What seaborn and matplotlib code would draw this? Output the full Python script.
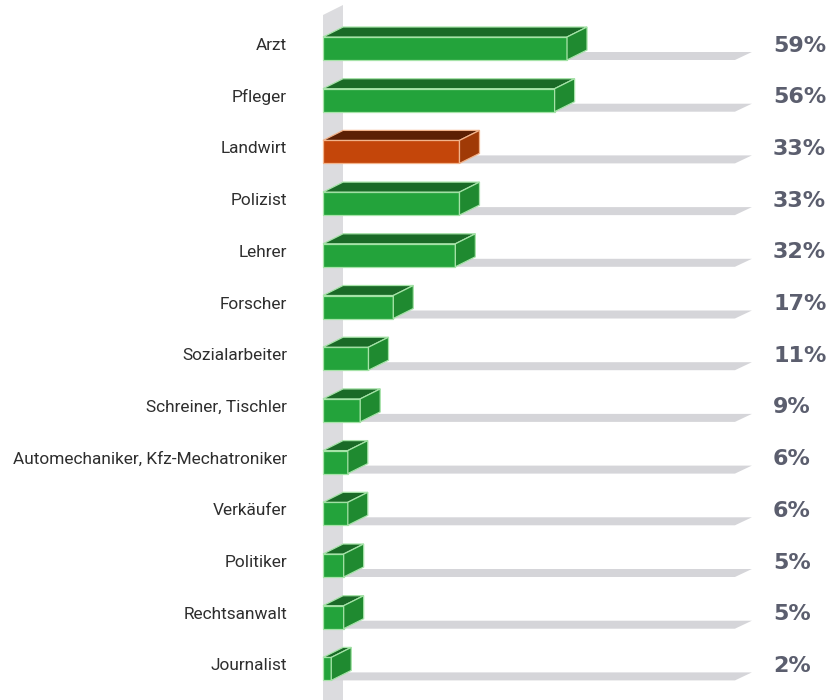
import matplotlib
matplotlib.use("Agg")
import matplotlib.pyplot as plt
from matplotlib.patches import Polygon
import seaborn as sns
import pandas as pd

categories = ["Arzt", "Pfleger", "Landwirt", "Polizist", "Lehrer", "Forscher",
              "Sozialarbeiter", "Schreiner, Tischler",
              "Automechaniker, Kfz-Mechatroniker", "Verkäufer", "Politiker",
              "Rechtsanwalt", "Journalist"]
values = [59, 56, 33, 33, 32, 17, 11, 9, 6, 6, 5, 5, 2]
highlight = "Landwirt"

GREEN = ("#23a33b", "#1a6a27", "#1f8a30", "#a6e3a8")
ORANGE = ("#c4460a", "#5c2004", "#a03a06", "#f2b38a")

sns.set_theme(style="white")
plt.rcParams["font.family"] = ["DejaVu Sans"]

df = pd.DataFrame({"Beruf": categories, "Wert": values})
pal = {c: (ORANGE[0] if c == highlight else GREEN[0]) for c in categories}

fig = plt.figure(figsize=(8.32, 7.0), dpi=100)
ax = fig.add_axes([0, 0, 1, 1])

PX_X = 4.136          # pixels per percent
PX_Y = 51.7           # pixels per category step
X0 = 323              # pixel of zero
Y0 = 48.5             # pixel centre of first row

bar_h = 23 / PX_Y
sns.barplot(data=df, y="Beruf", x="Wert", hue="Beruf", palette=pal,
            orient="h", width=bar_h, legend=False, ax=ax, zorder=3,
            saturation=1)
ax.set_xlim(-X0 / PX_X, (832 - X0) / PX_X)
ax.set_ylim((700 - Y0) / PX_Y, -Y0 / PX_Y)
ax.axis("off")

bars = sorted(list(ax.patches), key=lambda p: p.get_y())

dx = 20 / PX_X
dy = -10 / PX_Y

# back wall
wall = Polygon([(0, 20), (0, -(Y0 - 15) / PX_Y), (dx, -(Y0 - 5) / PX_Y), (dx, 20)],
               closed=True, facecolor="#dcdcdf", edgecolor="none", zorder=0)
ax.add_patch(wall)

for p, cat, val in zip(bars, categories, values):
    cols = ORANGE if cat == highlight else GREEN
    x = p.get_x()
    w = p.get_width()
    y = p.get_y()
    h = p.get_height()
    top, bottom = y, y + h
    p.set_edgecolor(cols[3])
    p.set_linewidth(0.9)
    # floor shadow
    sh = 8 / PX_Y
    shadow = Polygon([(0, bottom), (99.6, bottom), (103.7, bottom - sh), (0, bottom - sh)],
                     closed=True, facecolor="#d5d5d9", edgecolor="none", zorder=1)
    ax.add_patch(shadow)
    # top face
    topf = Polygon([(x, top), (x + w, top), (x + w + dx, top + dy), (x + dx, top + dy)],
                   closed=True, facecolor=cols[1], edgecolor=cols[3], linewidth=0.9, zorder=3)
    ax.add_patch(topf)
    # side face
    side = Polygon([(x + w, top), (x + w + dx, top + dy), (x + w + dx, bottom + dy), (x + w, bottom)],
                   closed=True, facecolor=cols[2], edgecolor=cols[3], linewidth=0.9, zorder=3)
    ax.add_patch(side)
    yc = y + h / 2 - 3 / PX_Y
    ax.text(-36 / PX_X, yc, cat, ha="right", va="center", fontsize=12.4,
            color="#2e2e2e", family=["Roboto", "DejaVu Sans"])
    ax.text((773 - X0) / PX_X, yc, f"{val}%", ha="left", va="center", fontsize=16,
            fontweight="bold", color="#5b5e6e", family=["DejaVu Sans"])

fig.savefig("out.png", dpi=100)
